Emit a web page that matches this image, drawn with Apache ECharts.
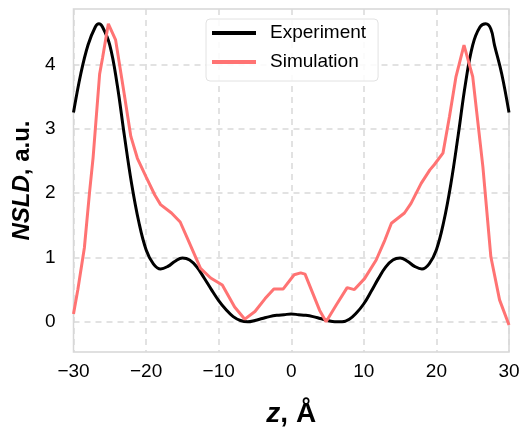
<!DOCTYPE html>
<html>
<head>
<meta charset="utf-8">
<script src="https://cdn.jsdelivr.net/npm/echarts@6/dist/echarts.min.js"></script>
<style>
html,body{margin:0;padding:0;background:#fff;}
#c{width:525px;height:428px;}
</style>
</head>
<body>
<div id="c"></div>
<script>
const expZ = [-30,-29,-28,-27,-26.5,-26,-25,-24,-23,-22,-21,-20,-19,-18,-17,-16,-15,-14,-13,-12,-11,-10,-9,-8,-7,-6,-5,-4,-3,-2,-1,0,1,2,3,4,5,6,7,8,9,10,11,12,13,14,15,16,17,18,19,20,21,22,23,24,25,26,26.8,27.5,28,29,30];
const expV = [3.25,3.85,4.3,4.58,4.63,4.58,4.3,3.7,2.9,2.15,1.55,1.12,0.9,0.82,0.86,0.94,0.99,0.96,0.85,0.68,0.5,0.33,0.19,0.08,0.02,0.0,0.02,0.05,0.08,0.1,0.11,0.12,0.11,0.1,0.08,0.05,0.02,0.0,0.0,0.04,0.14,0.28,0.47,0.67,0.85,0.96,0.99,0.94,0.86,0.82,0.9,1.12,1.55,2.15,2.9,3.7,4.3,4.58,4.63,4.55,4.3,3.85,3.25];

const simZ = [-30,-29.4,-28.5,-27.8,-27.3,-26.4,-26.0,-25.2,-24.2,-23.1,-22.1,-21.2,-20.0,-18.8,-18.0,-16.5,-15.3,-14.2,-12.5,-11.1,-9.5,-7.8,-6.4,-5.0,-3.6,-2.4,-1.1,0.4,1.3,1.9,3.9,4.8,6.2,7.7,8.7,10.1,11.7,12.9,13.8,15.6,16.5,17.9,19.1,19.7,20.9,21.8,22.7,23.8,25.0,26.4,27.5,28.7,30];
const simV = [0.12,0.5,1.15,2.0,2.55,3.85,4.1,4.63,4.38,3.6,2.88,2.54,2.25,1.97,1.82,1.69,1.55,1.27,0.83,0.68,0.57,0.23,0.04,0.16,0.36,0.51,0.51,0.73,0.76,0.74,0.18,0.0,0.26,0.53,0.5,0.67,0.96,1.27,1.53,1.69,1.84,2.15,2.36,2.44,2.62,3.19,3.81,4.30,3.81,2.41,1.01,0.34,-0.05];

const xTicks = [-30,-20,-10,0,10,20,30];
const yTicks = [0,1,2,3,4];

const expData = expZ.map((z,i)=>[z,expV[i]]);
const simData = simZ.map((z,i)=>[z,simV[i]]);

const FONT = '"Liberation Sans", Arial, Helvetica, sans-serif';
const LINE_ICON = 'path://M0,0 L44,0 L44,4 L0,4 Z';
const chart = echarts.init(document.getElementById('c'), null, {renderer:'canvas'});
chart.setOption({
  animation:false,
  backgroundColor:'#fff',
  grid:{left:73.5,right:16,top:9,bottom:76,outerBoundsMode:'none',containLabel:false,
    show:true,borderColor:'#d6d6d6',borderWidth:1.5,backgroundColor:'transparent'},
  legend:{
    left:206, top:19, orient:'vertical',
    padding:[4,12,9,6],
    itemWidth:44, itemHeight:4, itemGap:9,
    icon:LINE_ICON,
    backgroundColor:'rgba(255,255,255,0.85)', borderColor:'#e2e2e2', borderWidth:1, borderRadius:4,
    textStyle:{fontFamily:FONT,fontSize:19,color:'#000',lineHeight:20,padding:[0,0,0,9]},
    data:['Experiment','Simulation']
  },
  xAxis:{
    type:'value', min:-30, max:30, interval:10,
    axisLine:{show:false}, axisTick:{show:false},
    axisLabel:{fontFamily:FONT,fontSize:19,color:'#000',margin:10,
      formatter:v=>(v<0?'\u2212'+Math.abs(v):String(v))},
    splitLine:{show:true,lineStyle:{color:'#d9d9d9',width:1.5,type:[6,5]}},
    name:'{i|z}{b|, Å}', nameLocation:'middle', nameGap:48,
    nameTextStyle:{rich:{i:{fontFamily:FONT,fontSize:28,fontWeight:'bold',fontStyle:'italic',color:'#000'},b:{fontFamily:FONT,fontSize:28,fontWeight:'bold',color:'#000'}}}
  },
  yAxis:{
    type:'value', min:-0.47, max:4.86,
    axisLine:{show:false},
    axisTick:{show:false, customValues:yTicks},
    axisLabel:{fontFamily:FONT,fontSize:19,color:'#000',margin:18,customValues:yTicks},
    splitLine:{show:true,lineStyle:{color:'#d9d9d9',width:1.5,type:[6,5]}},
    name:'{i|NSLD}{b|, a.u.}', nameLocation:'middle', nameGap:36, nameRotate:90,
    nameTextStyle:{rich:{i:{fontFamily:FONT,fontSize:24,fontWeight:'bold',fontStyle:'italic',color:'#000'},b:{fontFamily:FONT,fontSize:24,fontWeight:'bold',color:'#000'}}}
  },
  series:[
    {name:'Experiment',type:'line',data:expData,smooth:0.4,showSymbol:false,symbol:'none',
     lineStyle:{color:'#000',width:3},itemStyle:{color:'#000'},z:3},
    {name:'Simulation',type:'line',data:simData,smooth:false,showSymbol:false,symbol:'none',
     lineStyle:{color:'#ff7373',width:3},itemStyle:{color:'#ff7373'},z:4}
  ]
});
</script>
</body>
</html>
